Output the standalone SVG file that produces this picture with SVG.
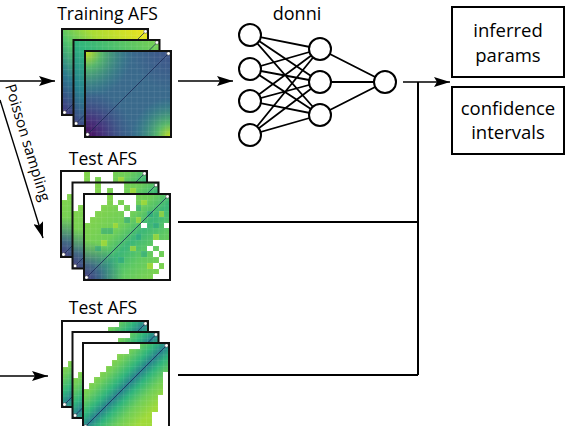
<svg xmlns="http://www.w3.org/2000/svg" width="568" height="426" viewBox="0 0 568 426">
<style>
text{font-family:"Open Sans","Liberation Sans",sans-serif;fill:#000}
.title{font-size:17.5px;text-anchor:middle}
.box{fill:#fff;stroke:#000;stroke-width:2}
.btxt{font-size:18.5px;text-anchor:middle}
.neuron{fill:#fff;stroke:#000;stroke-width:2}
.syn{stroke:#000;stroke-width:1.8}
.frame{fill:none;stroke:#111;stroke-width:2}
.diag{stroke:#1b2a55;stroke-width:0.8}
.dot{fill:#fff;stroke:#555;stroke-width:0.6}
.arrow{fill:none;stroke:#000;stroke-width:1.4;marker-end:url(#ah)}
.wire{fill:none;stroke:#000;stroke-width:2}
</style>
<defs>
<marker id="ah" markerUnits="userSpaceOnUse" markerWidth="16" markerHeight="10" refX="16" refY="5" orient="auto"><path d="M0,0 L16,5 L0,10 L3,5 Z" fill="#000"/></marker>
<pattern id="grid" patternUnits="userSpaceOnUse" width="5.7333" height="5.7333"><path d="M0 0H5.7333M0 0V5.7333" stroke="#fff" stroke-opacity="0.2" stroke-width="0.7" fill="none"/></pattern>
<radialGradient id="tlY" gradientUnits="userSpaceOnUse" cx="0" cy="0" r="48"><stop offset="0" stop-color="#d2e21b"/><stop offset="0.35" stop-color="#5ec962" stop-opacity="0.8"/><stop offset="1" stop-color="#21918c" stop-opacity="0"/></radialGradient>
<radialGradient id="brY" gradientUnits="userSpaceOnUse" cx="86" cy="86" r="40"><stop offset="0" stop-color="#d2e21b"/><stop offset="0.35" stop-color="#5ec962" stop-opacity="0.8"/><stop offset="1" stop-color="#21918c" stop-opacity="0"/></radialGradient>
<radialGradient id="blP" gradientUnits="userSpaceOnUse" cx="0" cy="86" r="48"><stop offset="0" stop-color="#440154"/><stop offset="0.4" stop-color="#482878" stop-opacity="0.8"/><stop offset="1" stop-color="#3e4989" stop-opacity="0"/></radialGradient>
<radialGradient id="trB" gradientUnits="userSpaceOnUse" cx="86" cy="0" r="40"><stop offset="0" stop-color="#414487" stop-opacity="0.6"/><stop offset="1" stop-color="#414487" stop-opacity="0"/></radialGradient>
<linearGradient id="trb1" x1="1" y1="0" x2="0" y2="1"><stop offset="0" stop-color="#f1e51d"/><stop offset="0.35" stop-color="#a8db34"/><stop offset="0.55" stop-color="#4ec36b"/><stop offset="0.75" stop-color="#2a788e"/><stop offset="1" stop-color="#46327e"/></linearGradient>
<linearGradient id="trb2" x1="1" y1="0" x2="0" y2="1"><stop offset="0" stop-color="#7ad151"/><stop offset="0.5" stop-color="#2fb47c"/><stop offset="0.75" stop-color="#26828e"/><stop offset="1" stop-color="#433e85"/></linearGradient>
<linearGradient id="t1g" x1="0" y1="0" x2="1" y2="1"><stop offset="0" stop-color="#8fd744"/><stop offset="0.4" stop-color="#6ece58"/><stop offset="0.55" stop-color="#3bb677"/><stop offset="0.7" stop-color="#5ec962"/><stop offset="1" stop-color="#8fd744"/></linearGradient>
<radialGradient id="blP1" gradientUnits="userSpaceOnUse" cx="0" cy="86" r="40"><stop offset="0" stop-color="#46327e"/><stop offset="0.4" stop-color="#3b528b" stop-opacity="0.8"/><stop offset="1" stop-color="#2c728e" stop-opacity="0"/></radialGradient>
<radialGradient id="blP2" gradientUnits="userSpaceOnUse" cx="0" cy="86" r="50"><stop offset="0" stop-color="#46327e"/><stop offset="0.4" stop-color="#3b528b" stop-opacity="0.8"/><stop offset="1" stop-color="#2c728e" stop-opacity="0"/></radialGradient>
<linearGradient id="t2g" x1="0" y1="0" x2="1" y2="1"><stop offset="0.2" stop-color="#a0da39"/><stop offset="0.33" stop-color="#6ccd5a"/><stop offset="0.43" stop-color="#2fb47c"/><stop offset="0.5" stop-color="#27818e"/><stop offset="0.57" stop-color="#2fb47c"/><stop offset="0.67" stop-color="#6ccd5a"/><stop offset="0.8" stop-color="#a0da39"/></linearGradient>

<g id="trBack1">
<rect width="86" height="86" fill="url(#trb1)"/>
<rect width="86" height="86" fill="url(#grid)"/>
<line class="diag" x1="2.5" y1="83.5" x2="83.5" y2="2.5"/>
<circle class="dot" cx="2.5" cy="83.5" r="1.8"/><circle class="dot" cx="83.5" cy="2.5" r="1.8"/>
<rect class="frame" width="86" height="86"/>
</g>
<g id="trBack2">
<rect width="86" height="86" fill="url(#trb2)"/>
<rect width="86" height="86" fill="url(#grid)"/>
<line class="diag" x1="2.5" y1="83.5" x2="83.5" y2="2.5"/>
<circle class="dot" cx="2.5" cy="83.5" r="1.8"/><circle class="dot" cx="83.5" cy="2.5" r="1.8"/>
<rect class="frame" width="86" height="86"/>
</g>
<g id="trFront">
<rect width="86" height="86" fill="#3a6a8c"/>
<rect width="86" height="86" fill="url(#trB)"/>
<rect width="86" height="86" fill="url(#tlY)"/>
<rect width="86" height="86" fill="url(#brY)"/>
<rect width="86" height="86" fill="url(#blP)"/>
<rect width="86" height="86" fill="url(#grid)"/>
<line class="diag" x1="2.5" y1="83.5" x2="83.5" y2="2.5"/>
<circle class="dot" cx="2.5" cy="83.5" r="1.8"/><circle class="dot" cx="83.5" cy="2.5" r="1.8"/>
<rect class="frame" width="86" height="86"/>
</g>
<g id="test1">
<rect width="86" height="86" fill="url(#t1g)"/>
<rect width="86" height="86" fill="url(#blP1)"/>
<g transform="scale(5.7333)" shape-rendering="crispEdges">
<path fill="#1f9e89" fill-opacity="0.45" d="M9 2h1v1h-1z M4 6h1v1h-1z M7 4h1v1h-1z M11 3h1v1h-1z M2 9h1v1h-1z M6 11h1v1h-1z M9 7h1v1h-1z M12 5h1v1h-1z M3 6h1v1h-1z M10 10h1v1h-1z"/>
<path fill="#b5de2b" fill-opacity="0.6" d="M10 1h1v1h-1z M5 5h1v1h-1z M12 7h1v1h-1z M9 4h1v1h-1z M3 8h1v1h-1z M11 12h1v1h-1z M8 9h1v1h-1z M13 3h1v1h-1z"/>
<path fill="#fff" d="M0 0h4v1h-4z M5 0h4v1h-4z M0 1h4v1h-4z M5 1h1v1h-1z M7 1h2v1h-2z M0 2h3v1h-3z M6 2h1v1h-1z M8 2h1v1h-1z M0 3h2v1h-2z M7 3h1v1h-1z M0 4h1v1h-1z M10 5h1v1h-1z M14 5h1v1h-1z M12 8h3v1h-3z M11 9h1v1h-1z M13 9h2v1h-2z M12 10h1v1h-1z M14 10h1v1h-1z M13 11h2v1h-2z M12 12h1v1h-1z M14 12h1v1h-1z M13 13h2v1h-2z M12 14h3v1h-3z"/>
</g>
<rect width="86" height="86" fill="url(#grid)"/>
<line class="diag" x1="2.5" y1="83.5" x2="83.5" y2="2.5"/>
<circle class="dot" cx="2.5" cy="83.5" r="1.8"/><circle class="dot" cx="83.5" cy="2.5" r="1.8"/>
<rect class="frame" width="86" height="86"/>
</g>
<g id="test2">
<rect width="86" height="86" fill="#fff"/>
<g transform="scale(5.7333)" shape-rendering="crispEdges">
<path fill="url(#t2g)" d="M10 0H15V5H14V9H13V12H12V15H0V8H1V7H2V6H3V5H4V4H5V3H6V2H8V1H10Z"/>
</g>
<path fill="url(#blP2)" transform="scale(5.7333)" d="M10 0H15V5H14V9H13V12H12V15H0V8H1V7H2V6H3V5H4V4H5V3H6V2H8V1H10Z"/>
<rect width="86" height="86" fill="url(#grid)"/>
<line class="diag" x1="2.5" y1="83.5" x2="83.5" y2="2.5"/>
<circle class="dot" cx="2.5" cy="83.5" r="1.8"/><circle class="dot" cx="83.5" cy="2.5" r="1.8"/>
<rect class="frame" width="86" height="86"/>
</g>
</defs>

<g id="connectors">
<line class="arrow" x1="0" y1="81" x2="55" y2="81"/>
<line class="arrow" x1="178" y1="81" x2="233" y2="81"/>
<line class="arrow" x1="403" y1="82" x2="450" y2="82"/>
<path class="wire" d="M418 82V375"/>
<path class="wire" d="M178 222H418"/>
<path class="wire" d="M178 375H418"/>
<line class="arrow" x1="0" y1="376" x2="48" y2="376"/>
<line class="arrow" x1="0" y1="100" x2="43" y2="238"/>
<text transform="translate(5,86) rotate(73)" font-size="15">Poisson sampling</text>
</g>

<g id="training-afs">
<text class="title" x="107.5" y="20">Training AFS</text>
<use href="#trBack1" x="62" y="29"/>
<use href="#trBack2" x="73.5" y="40"/>
<use href="#trFront" x="85" y="51"/>
</g>

<g id="test-afs-1">
<text class="title" x="103" y="165">Test AFS</text>
<use href="#test1" x="61" y="171"/>
<use href="#test1" x="72.5" y="182.5"/>
<use href="#test1" x="84" y="194"/>
</g>

<g id="test-afs-2">
<text class="title" x="103" y="314">Test AFS</text>
<use href="#test2" x="62" y="321"/>
<use href="#test2" x="72.5" y="332"/>
<use href="#test2" x="83" y="343"/>
</g>

<g id="donni">
<text class="title" x="297" y="20" style="font-size:18px">donni</text>
<g class="syn">
<path d="M250 35L320 49M250 35L320 82M250 35L320 115M250 69L320 49M250 69L320 82M250 69L320 115M250 101L320 49M250 101L320 82M250 101L320 115M250 135L320 49M250 135L320 82M250 135L320 115M320 49L385 82M320 82L385 82M320 115L385 82"/>
</g>
<circle class="neuron" cx="250" cy="35" r="11"/>
<circle class="neuron" cx="250" cy="69" r="11"/>
<circle class="neuron" cx="250" cy="101" r="11"/>
<circle class="neuron" cx="250" cy="135" r="11"/>
<circle class="neuron" cx="320" cy="49" r="11"/>
<circle class="neuron" cx="320" cy="82" r="11"/>
<circle class="neuron" cx="320" cy="115" r="11"/>
<circle class="neuron" cx="385" cy="82" r="11"/>
</g>

<g id="inferred-params">
<rect class="box" x="452" y="7" width="112" height="70"/>
<text class="btxt" x="508" y="37">inferred</text>
<text class="btxt" x="508" y="62">params</text>
</g>

<g id="confidence-intervals">
<rect class="box" x="452" y="87" width="112" height="67"/>
<text class="btxt" x="508" y="115">confidence</text>
<text class="btxt" x="508" y="139">intervals</text>
</g>
</svg>
